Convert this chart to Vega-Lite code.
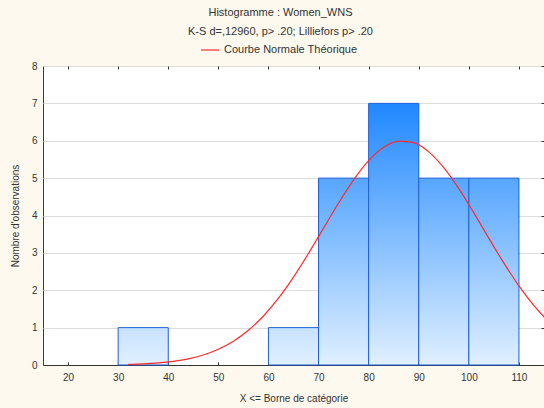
{
  "$schema": "https://vega.github.io/schema/vega-lite/v6.json",
  "autosize": {"type": "none"},
  "width": 501,
  "height": 299,
  "padding": {"left": 43, "top": 66, "right": 0, "bottom": 43},
  "background": "#fef9ee",
  "config": {
    "font": "Liberation Sans",
    "view": {"fill": "white", "stroke": "#3c3c3c", "strokeWidth": 1}
  },
  "title": {
    "text": "Histogramme : Women_WNS",
    "subtitle": "K-S d=,12960, p> .20; Lilliefors p> .20",
    "fontSize": 11,
    "fontWeight": "normal",
    "color": "#333333",
    "subtitleFontSize": 11,
    "subtitleColor": "#333333",
    "subtitleFont": "Liberation Sans",
    "anchor": "middle",
    "offset": 3,
    "subtitlePadding": 8,
    "dx": -13
  },
  "layer": [
    {
      "data": {
        "values": [
          {"lo": 30, "hi": 40, "count": 1},
          {"lo": 60, "hi": 70, "count": 1},
          {"lo": 70, "hi": 80, "count": 5},
          {"lo": 80, "hi": 90, "count": 7},
          {"lo": 90, "hi": 100, "count": 5},
          {"lo": 100, "hi": 110, "count": 5}
        ]
      },
      "mark": {"type": "bar", "stroke": "#1f5fd6", "strokeWidth": 1},
      "encoding": {
        "x": {
          "field": "lo",
          "type": "quantitative",
          "scale": {"domain": [15, 115], "nice": false, "zero": false},
          "axis": {
            "orient": "bottom",
            "title": "X <= Borne de catégorie",
            "values": [20, 30, 40, 50, 60, 70, 80, 90, 100, 110],
            "grid": false,
            "tickSize": -3,
            "tickColor": "#333333",
            "domainColor": "#333333",
            "labelPadding": 10,
            "labelFontSize": 10,
            "labelColor": "#333333",
            "titleFontSize": 10,
            "titleFontWeight": "normal",
            "titleColor": "#333333",
            "titlePadding": 11
          }
        },
        "x2": {"field": "hi"},
        "y": {
          "field": "count",
          "type": "quantitative",
          "scale": {"domain": [0, 8], "nice": false},
          "axis": {
            "orient": "left",
            "title": "Nombre d'observations",
            "values": [0, 1, 2, 3, 4, 5, 6, 7, 8],
            "grid": true,
            "gridColor": "#dcdcdc",
            "ticks": false,
            "domain": false,
            "labelPadding": 6,
            "labelFontSize": 10,
            "labelColor": "#333333",
            "titleFontSize": 10,
            "titleFontWeight": "normal",
            "titleColor": "#333333",
            "titlePadding": 11
          }
        },
        "y2": {"datum": 0},
        "fill": {
          "condition": [
            {"test": "datum.count == 7", "value": {"gradient": "linear", "x1": 0, "y1": 0, "x2": 0, "y2": 1, "stops": [{"offset": 0, "color": "#2088ff"}, {"offset": 1, "color": "#e0f0ff"}]}},
            {"test": "datum.count == 5", "value": {"gradient": "linear", "x1": 0, "y1": 0, "x2": 0, "y2": 1, "stops": [{"offset": 0, "color": "#57a6ff"}, {"offset": 1, "color": "#e0f0ff"}]}}
          ],
          "value": {"gradient": "linear", "x1": 0, "y1": 0, "x2": 0, "y2": 1, "stops": [{"offset": 0, "color": "#c8e2ff"}, {"offset": 1, "color": "#e0f0ff"}]}
        }
      }
    },
    {
      "data": {
        "values": [
          {"x": 32, "y": 0.017, "serie": "Courbe Normale Théorique"},
          {"x": 35, "y": 0.031, "serie": "Courbe Normale Théorique"},
          {"x": 38, "y": 0.056, "serie": "Courbe Normale Théorique"},
          {"x": 41, "y": 0.098, "serie": "Courbe Normale Théorique"},
          {"x": 44, "y": 0.165, "serie": "Courbe Normale Théorique"},
          {"x": 47, "y": 0.268, "serie": "Courbe Normale Théorique"},
          {"x": 50, "y": 0.42, "serie": "Courbe Normale Théorique"},
          {"x": 53, "y": 0.636, "serie": "Courbe Normale Théorique"},
          {"x": 56, "y": 0.93, "serie": "Courbe Normale Théorique"},
          {"x": 59, "y": 1.311, "serie": "Courbe Normale Théorique"},
          {"x": 62, "y": 1.787, "serie": "Courbe Normale Théorique"},
          {"x": 65, "y": 2.351, "serie": "Courbe Normale Théorique"},
          {"x": 68, "y": 2.988, "serie": "Courbe Normale Théorique"},
          {"x": 71, "y": 3.661, "serie": "Courbe Normale Théorique"},
          {"x": 74, "y": 4.335, "serie": "Courbe Normale Théorique"},
          {"x": 77, "y": 4.955, "serie": "Courbe Normale Théorique"},
          {"x": 80, "y": 5.467, "serie": "Courbe Normale Théorique"},
          {"x": 83, "y": 5.824, "serie": "Courbe Normale Théorique"},
          {"x": 86, "y": 5.99, "serie": "Courbe Normale Théorique"},
          {"x": 89, "y": 5.949, "serie": "Courbe Normale Théorique"},
          {"x": 92, "y": 5.703, "serie": "Courbe Normale Théorique"},
          {"x": 95, "y": 5.279, "serie": "Courbe Normale Théorique"},
          {"x": 98, "y": 4.717, "serie": "Courbe Normale Théorique"},
          {"x": 101, "y": 4.069, "serie": "Courbe Normale Théorique"},
          {"x": 104, "y": 3.389, "serie": "Courbe Normale Théorique"},
          {"x": 107, "y": 2.726, "serie": "Courbe Normale Théorique"},
          {"x": 110, "y": 2.117, "serie": "Courbe Normale Théorique"},
          {"x": 113, "y": 1.587, "serie": "Courbe Normale Théorique"},
          {"x": 116, "y": 1.148, "serie": "Courbe Normale Théorique"}
        ]
      },
      "mark": {"type": "line", "strokeWidth": 1.2, "clip": true, "interpolate": "monotone"},
      "encoding": {
        "x": {
          "field": "x",
          "type": "quantitative",
          "axis": {
            "orient": "top",
            "values": [20, 30, 40, 50, 60, 70, 80, 90, 100, 110],
            "labels": false,
            "title": null,
            "grid": false,
            "domain": false,
            "tickSize": -3,
            "tickColor": "#333333"
          }
        },
        "y": {
          "field": "y",
          "type": "quantitative",
          "axis": {
            "orient": "right",
            "values": [0, 1, 2, 3, 4, 5, 6, 7, 8],
            "labels": false,
            "title": null,
            "grid": false,
            "domain": false,
            "tickSize": -3,
            "tickColor": "#333333"
          }
        },
        "stroke": {
          "field": "serie",
          "type": "nominal",
          "scale": {"range": ["#ff2a2a"]},
          "legend": {
            "orient": "none",
            "legendX": 157,
            "legendY": -26,
            "title": null,
            "symbolType": "stroke",
            "symbolSize": 324,
            "symbolStrokeWidth": 1.2,
            "labelFontSize": 11,
            "labelColor": "#333333",
            "labelFont": "Liberation Sans",
            "labelOffset": 4
          }
        }
      }
    }
  ],
  "resolve": {"axis": {"x": "independent", "y": "independent"}}
}
